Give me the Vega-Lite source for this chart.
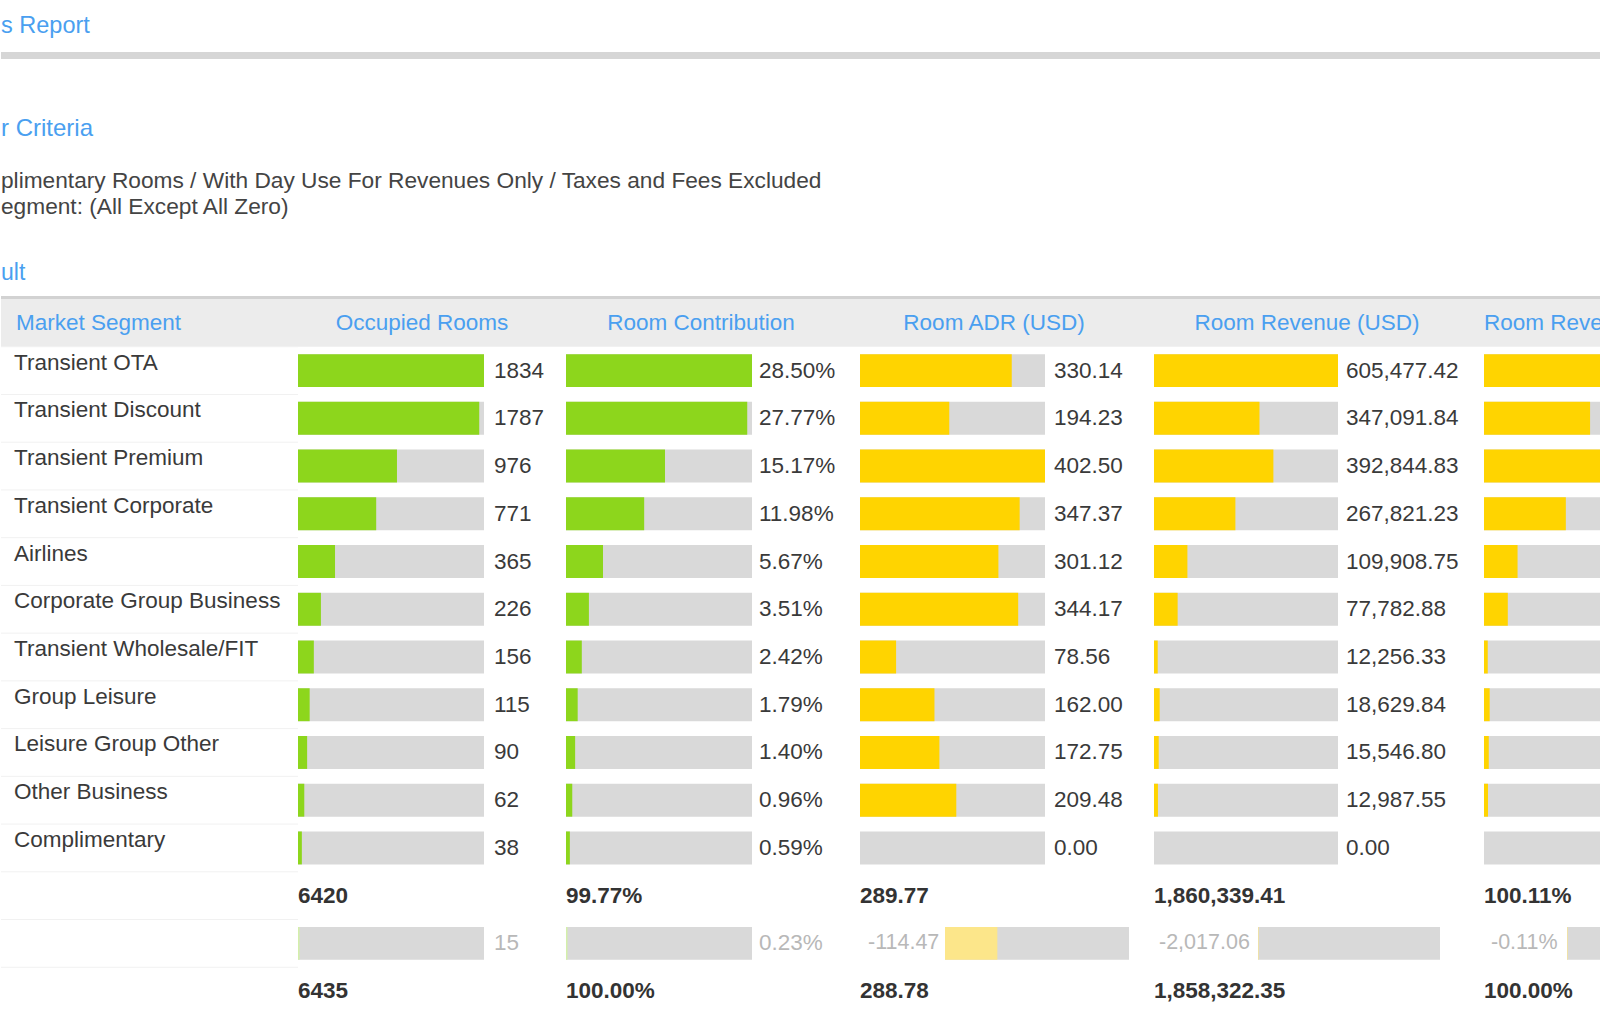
{
  "$schema": "https://vega.github.io/schema/vega-lite/v6.json",
  "background": "white",
  "padding": 0,
  "bounds": "flush",
  "spacing": 0,
  "config": {
    "view": {"stroke": null},
    "font": "Liberation Sans",
    "concat": {"spacing": 0},
    "axis": {"disable": true},
    "text": {"fontSize": 22.5},
    "locale": {"number": {"decimal": ".", "thousands": ",", "grouping": [3], "currency": ["$", ""], "minus": "-"}}
  },
  "datasets": {
    "table": [
      {"key": "Transient OTA", "kind": "seg", "rooms": 1834, "contrib": 0.2850, "adr": 330.14, "revenue": 605477.42, "share": 0.3258},
      {"key": "Transient Discount", "kind": "seg", "rooms": 1787, "contrib": 0.2777, "adr": 194.23, "revenue": 347091.84, "share": 0.1868},
      {"key": "Transient Premium", "kind": "seg", "rooms": 976, "contrib": 0.1517, "adr": 402.50, "revenue": 392844.83, "share": 0.2114},
      {"key": "Transient Corporate", "kind": "seg", "rooms": 771, "contrib": 0.1198, "adr": 347.37, "revenue": 267821.23, "share": 0.1441},
      {"key": "Airlines", "kind": "seg", "rooms": 365, "contrib": 0.0567, "adr": 301.12, "revenue": 109908.75, "share": 0.0591},
      {"key": "Corporate Group Business", "kind": "seg", "rooms": 226, "contrib": 0.0351, "adr": 344.17, "revenue": 77782.88, "share": 0.0419},
      {"key": "Transient Wholesale/FIT", "kind": "seg", "rooms": 156, "contrib": 0.0242, "adr": 78.56, "revenue": 12256.33, "share": 0.0066},
      {"key": "Group Leisure", "kind": "seg", "rooms": 115, "contrib": 0.0179, "adr": 162.00, "revenue": 18629.84, "share": 0.0100},
      {"key": "Leisure Group Other", "kind": "seg", "rooms": 90, "contrib": 0.0140, "adr": 172.75, "revenue": 15546.80, "share": 0.0084},
      {"key": "Other Business", "kind": "seg", "rooms": 62, "contrib": 0.0096, "adr": 209.48, "revenue": 12987.55, "share": 0.0070},
      {"key": "Complimentary", "kind": "seg", "rooms": 38, "contrib": 0.0059, "adr": 0, "revenue": 0, "share": 0},
      {"key": "_total", "kind": "total", "rooms": 6420, "contrib": 0.9977, "adr": 289.77, "revenue": 1860339.41, "share": 1.0011},
      {"key": "_diff", "kind": "diff", "rooms": 15, "contrib": 0.0023, "adr": -114.47, "revenue": -2017.06, "share": -0.0011},
      {"key": "_grand", "kind": "grand", "rooms": 6435, "contrib": 1.0, "adr": 288.78, "revenue": 1858322.35, "share": 1.0}
    ]
  },
  "vconcat": [
    {"width": 1600, "height": 52, "data": {"values": [{}]},
     "mark": {"type": "text", "align": "left", "baseline": "middle", "fontSize": 23.5, "color": "#4a9ff0", "text": "s Report"},
     "encoding": {"x": {"datum": 0, "type": "quantitative", "scale": {"domain": [0, 1]}, "axis": null}}},
    {"width": 1600, "height": 7, "data": {"values": [{}]},
     "mark": {"type": "bar", "color": "#d6d6d6"}, "encoding": {}},
    {"width": 1600, "height": 53, "data": {"values": [{}]},
     "mark": {"type": "text", "text": ""}, "encoding": {}},
    {"width": 1600, "height": 34, "data": {"values": [{}]},
     "mark": {"type": "text", "align": "left", "baseline": "middle", "fontSize": 24, "color": "#4a9ff0", "text": "r Criteria"},
     "encoding": {"x": {"datum": 0, "type": "quantitative", "scale": {"domain": [0, 1]}, "axis": null}}},
    {"width": 1600, "height": 70, "data": {"values": [{}]},
     "mark": {"type": "text", "align": "left", "baseline": "middle", "fontSize": 22.7, "lineHeight": 26, "color": "#444444",
              "text": ["plimentary Rooms / With Day Use For Revenues Only / Taxes and Fees Excluded", "egment: (All Except All Zero)"]},
     "encoding": {"x": {"datum": 0, "type": "quantitative", "scale": {"domain": [0, 1]}, "axis": null}}},
    {"width": 1600, "height": 34, "data": {"values": [{}]},
     "mark": {"type": "text", "text": ""}, "encoding": {}},
    {"width": 1600, "height": 46, "data": {"values": [{}]},
     "mark": {"type": "text", "align": "left", "baseline": "middle", "fontSize": 23, "color": "#4a9ff0", "text": "ult"},
     "encoding": {"x": {"datum": 0, "type": "quantitative", "scale": {"domain": [0, 1]}, "axis": null}}},
    {"width": 1600, "height": 3, "data": {"values": [{}]},
     "mark": {"type": "bar", "color": "#d2d2d2"}, "encoding": {}},
    {
      "bounds": "flush",
      "spacing": 0,
      "hconcat": [
        {
          "width": 297, "height": 716,
          "layer": [
            {"data": {"values": [{}]}, "mark": {"type": "bar", "color": "#ececec"},
             "encoding": {"y": {"datum": "_hdr", "type": "nominal", "scale": {"domain": ["_hdr","Transient OTA","Transient Discount","Transient Premium","Transient Corporate","Airlines","Corporate Group Business","Transient Wholesale/FIT","Group Leisure","Leisure Group Other","Other Business","Complimentary","_total","_diff","_grand"], "paddingInner": 0, "paddingOuter": 0}, "axis": null}}},
            {"data": {"name": "table"}, "mark": {"type": "rule", "color": "#f1f1f1", "strokeWidth": 1},
             "encoding": {"y": {"field": "key", "type": "nominal", "bandPosition": 0}}},
            {"data": {"values": [{}]}, "mark": {"type": "text", "align": "left", "baseline": "middle", "dx": 15, "color": "#4a9ff0", "text": "Market Segment"},
             "encoding": {"y": {"datum": "_hdr", "type": "nominal"}, "x": {"datum": 0, "type": "quantitative", "scale": {"domain": [0, 1]}, "axis": null}}},
            {"data": {"name": "table"}, "transform": [{"filter": "datum.kind === 'seg'"}],
             "mark": {"type": "text", "align": "left", "baseline": "middle", "dx": 13, "dy": -8, "color": "#3a3a3a"},
             "encoding": {"y": {"field": "key", "type": "nominal"}, "x": {"datum": 0, "type": "quantitative"}, "text": {"field": "key", "type": "nominal"}}}
          ]
        },
        {
          "width": 248, "height": 716,
          "layer": [
            {"data": {"values": [{}]}, "mark": {"type": "bar", "color": "#ececec"},
             "encoding": {"y": {"datum": "_hdr", "type": "nominal", "scale": {"domain": ["_hdr","Transient OTA","Transient Discount","Transient Premium","Transient Corporate","Airlines","Corporate Group Business","Transient Wholesale/FIT","Group Leisure","Leisure Group Other","Other Business","Complimentary","_total","_diff","_grand"], "paddingInner": 0, "paddingOuter": 0}, "axis": null}}},
            {"data": {"values": [{}]}, "mark": {"type": "text", "baseline": "middle", "color": "#4a9ff0", "text": "Occupied Rooms"},
             "encoding": {"y": {"datum": "_hdr", "type": "nominal"}}},
            {"data": {"name": "table"}, "transform": [{"filter": "datum.kind === 'seg' || datum.kind === 'diff'"}, {"joinaggregate": [{"op": "max", "field": "rooms", "as": "maxv"}]}],
             "mark": {"type": "bar", "color": "#d9d9d9", "height": {"band": 0.69}},
             "encoding": {"y": {"field": "key", "type": "nominal"}, "x": {"field": "maxv", "type": "quantitative", "scale": {"range": [0, 186], "nice": false, "zero": true}, "axis": null}}},
            {"data": {"name": "table"}, "transform": [{"filter": "datum.kind === 'seg' || datum.kind === 'diff'"}],
             "mark": {"type": "bar", "height": {"band": 0.69}},
             "encoding": {"y": {"field": "key", "type": "nominal"}, "x": {"field": "rooms", "type": "quantitative"},
                          "color": {"condition": {"test": "datum.kind === 'diff'", "value": "#d4efab"}, "value": "#8dd61c"}}},
            {"data": {"name": "table"}, "transform": [{"filter": "datum.kind === 'seg' || datum.kind === 'diff'"}, {"joinaggregate": [{"op": "max", "field": "rooms", "as": "maxv"}]}],
             "mark": {"type": "text", "align": "left", "baseline": "middle", "dx": 10},
             "encoding": {"y": {"field": "key", "type": "nominal"}, "x": {"field": "maxv", "type": "quantitative"},
                          "text": {"field": "rooms", "type": "quantitative", "format": "d"},
                          "color": {"condition": {"test": "datum.kind === 'diff'", "value": "#b8b8b8"}, "value": "#3a3a3a"}}},
            {"data": {"name": "table"}, "transform": [{"filter": "datum.kind === 'total' || datum.kind === 'grand'"}],
             "mark": {"type": "text", "align": "left", "baseline": "middle", "fontWeight": "bold", "color": "#333333"},
             "encoding": {"y": {"field": "key", "type": "nominal"}, "x": {"datum": 0, "type": "quantitative"},
                          "text": {"field": "rooms", "type": "quantitative", "format": "d"}}}
          ]
        },
        {
          "width": 310, "height": 716,
          "layer": [
            {"data": {"values": [{}]}, "mark": {"type": "bar", "color": "#ececec"},
             "encoding": {"y": {"datum": "_hdr", "type": "nominal", "scale": {"domain": ["_hdr","Transient OTA","Transient Discount","Transient Premium","Transient Corporate","Airlines","Corporate Group Business","Transient Wholesale/FIT","Group Leisure","Leisure Group Other","Other Business","Complimentary","_total","_diff","_grand"], "paddingInner": 0, "paddingOuter": 0}, "axis": null}}},
            {"data": {"values": [{}]}, "mark": {"type": "text", "baseline": "middle", "color": "#4a9ff0", "text": "Room Contribution"},
             "encoding": {"y": {"datum": "_hdr", "type": "nominal"}}},
            {"data": {"name": "table"}, "transform": [{"filter": "datum.kind === 'seg' || datum.kind === 'diff'"}, {"joinaggregate": [{"op": "max", "field": "contrib", "as": "maxv"}]}],
             "mark": {"type": "bar", "color": "#d9d9d9", "height": {"band": 0.69}},
             "encoding": {"y": {"field": "key", "type": "nominal"}, "x": {"field": "maxv", "type": "quantitative", "scale": {"range": [20, 206], "nice": false, "zero": true}, "axis": null}}},
            {"data": {"name": "table"}, "transform": [{"filter": "datum.kind === 'seg' || datum.kind === 'diff'"}],
             "mark": {"type": "bar", "height": {"band": 0.69}},
             "encoding": {"y": {"field": "key", "type": "nominal"}, "x": {"field": "contrib", "type": "quantitative"},
                          "color": {"condition": {"test": "datum.kind === 'diff'", "value": "#d4efab"}, "value": "#8dd61c"}}},
            {"data": {"name": "table"}, "transform": [{"filter": "datum.kind === 'seg' || datum.kind === 'diff'"}, {"joinaggregate": [{"op": "max", "field": "contrib", "as": "maxv"}]}],
             "mark": {"type": "text", "align": "left", "baseline": "middle", "dx": 7},
             "encoding": {"y": {"field": "key", "type": "nominal"}, "x": {"field": "maxv", "type": "quantitative"},
                          "text": {"field": "contrib", "type": "quantitative", "format": ".2%"},
                          "color": {"condition": {"test": "datum.kind === 'diff'", "value": "#b8b8b8"}, "value": "#3a3a3a"}}},
            {"data": {"name": "table"}, "transform": [{"filter": "datum.kind === 'total' || datum.kind === 'grand'"}],
             "mark": {"type": "text", "align": "left", "baseline": "middle", "fontWeight": "bold", "color": "#333333"},
             "encoding": {"y": {"field": "key", "type": "nominal"}, "x": {"datum": 0, "type": "quantitative"},
                          "text": {"field": "contrib", "type": "quantitative", "format": ".2%"}}}
          ]
        },
        {
          "width": 276, "height": 716,
          "resolve": {"scale": {"x": "independent"}},
          "layer": [
            {"layer": [
              {"data": {"values": [{}]}, "mark": {"type": "bar", "color": "#ececec"},
               "encoding": {"y": {"datum": "_hdr", "type": "nominal", "scale": {"domain": ["_hdr","Transient OTA","Transient Discount","Transient Premium","Transient Corporate","Airlines","Corporate Group Business","Transient Wholesale/FIT","Group Leisure","Leisure Group Other","Other Business","Complimentary","_total","_diff","_grand"], "paddingInner": 0, "paddingOuter": 0}, "axis": null}}},
              {"data": {"values": [{}]}, "mark": {"type": "text", "baseline": "middle", "color": "#4a9ff0", "text": "Room ADR (USD)"},
               "encoding": {"y": {"datum": "_hdr", "type": "nominal"}}},
              {"data": {"name": "table"}, "transform": [{"filter": "datum.kind === 'seg'"}, {"joinaggregate": [{"op": "max", "field": "adr", "as": "maxv"}]}],
               "mark": {"type": "bar", "color": "#d9d9d9", "height": {"band": 0.69}},
               "encoding": {"y": {"field": "key", "type": "nominal"}, "x": {"field": "maxv", "type": "quantitative", "scale": {"range": [4, 189], "nice": false, "zero": true}, "axis": null}}},
              {"data": {"name": "table"}, "transform": [{"filter": "datum.kind === 'seg'"}],
               "mark": {"type": "bar", "color": "#ffd400", "height": {"band": 0.69}},
               "encoding": {"y": {"field": "key", "type": "nominal"}, "x": {"field": "adr", "type": "quantitative"}}},
              {"data": {"name": "table"}, "transform": [{"filter": "datum.kind === 'seg'"}, {"joinaggregate": [{"op": "max", "field": "adr", "as": "maxv"}]}],
               "mark": {"type": "text", "align": "left", "baseline": "middle", "dx": 9, "color": "#3a3a3a"},
               "encoding": {"y": {"field": "key", "type": "nominal"}, "x": {"field": "maxv", "type": "quantitative"},
                            "text": {"field": "adr", "type": "quantitative", "format": ".2f"}}},
              {"data": {"name": "table"}, "transform": [{"filter": "datum.kind === 'total' || datum.kind === 'grand'"}],
               "mark": {"type": "text", "align": "left", "baseline": "middle", "fontWeight": "bold", "color": "#333333"},
               "encoding": {"y": {"field": "key", "type": "nominal"}, "x": {"datum": 0, "type": "quantitative"},
                            "text": {"field": "adr", "type": "quantitative", "format": ".2f"}}},
              {"data": {"name": "table"}, "transform": [{"filter": "datum.kind === 'diff'"}],
               "mark": {"type": "text", "align": "left", "baseline": "middle", "dx": 8, "fontSize": 21.5, "color": "#b8b8b8"},
               "encoding": {"y": {"field": "key", "type": "nominal"}, "x": {"datum": 0, "type": "quantitative"},
                            "text": {"field": "adr", "type": "quantitative", "format": ".2f"}}}
            ]},
            {"layer": [
              {"data": {"name": "table"}, "transform": [{"filter": "datum.kind === 'diff'"}],
               "mark": {"type": "bar", "color": "#d9d9d9", "height": {"band": 0.69}},
               "encoding": {"y": {"field": "key", "type": "nominal"}, "x": {"datum": -402.5, "type": "quantitative", "scale": {"domain": [0, -402.5], "range": [89, 273], "nice": false, "zero": false}, "axis": null}}},
              {"data": {"name": "table"}, "transform": [{"filter": "datum.kind === 'diff'"}],
               "mark": {"type": "bar", "color": "#fce68a", "height": {"band": 0.69}},
               "encoding": {"y": {"field": "key", "type": "nominal"}, "x": {"field": "adr", "type": "quantitative"}}}
            ]}
          ]
        },
        {
          "width": 350, "height": 716,
          "resolve": {"scale": {"x": "independent"}},
          "layer": [
            {"layer": [
              {"data": {"values": [{}]}, "mark": {"type": "bar", "color": "#ececec"},
               "encoding": {"y": {"datum": "_hdr", "type": "nominal", "scale": {"domain": ["_hdr","Transient OTA","Transient Discount","Transient Premium","Transient Corporate","Airlines","Corporate Group Business","Transient Wholesale/FIT","Group Leisure","Leisure Group Other","Other Business","Complimentary","_total","_diff","_grand"], "paddingInner": 0, "paddingOuter": 0}, "axis": null}}},
              {"data": {"values": [{}]}, "mark": {"type": "text", "baseline": "middle", "color": "#4a9ff0", "text": "Room Revenue (USD)"},
               "encoding": {"y": {"datum": "_hdr", "type": "nominal"}}},
              {"data": {"name": "table"}, "transform": [{"filter": "datum.kind === 'seg'"}, {"joinaggregate": [{"op": "max", "field": "revenue", "as": "maxv"}]}],
               "mark": {"type": "bar", "color": "#d9d9d9", "height": {"band": 0.69}},
               "encoding": {"y": {"field": "key", "type": "nominal"}, "x": {"field": "maxv", "type": "quantitative", "scale": {"range": [22, 206], "nice": false, "zero": true}, "axis": null}}},
              {"data": {"name": "table"}, "transform": [{"filter": "datum.kind === 'seg'"}],
               "mark": {"type": "bar", "color": "#ffd400", "height": {"band": 0.69}},
               "encoding": {"y": {"field": "key", "type": "nominal"}, "x": {"field": "revenue", "type": "quantitative"}}},
              {"data": {"name": "table"}, "transform": [{"filter": "datum.kind === 'seg'"}, {"joinaggregate": [{"op": "max", "field": "revenue", "as": "maxv"}]}],
               "mark": {"type": "text", "align": "left", "baseline": "middle", "dx": 8, "color": "#3a3a3a"},
               "encoding": {"y": {"field": "key", "type": "nominal"}, "x": {"field": "maxv", "type": "quantitative"},
                            "text": {"field": "revenue", "type": "quantitative", "format": ",.2f"}}},
              {"data": {"name": "table"}, "transform": [{"filter": "datum.kind === 'total' || datum.kind === 'grand'"}],
               "mark": {"type": "text", "align": "left", "baseline": "middle", "fontWeight": "bold", "color": "#333333"},
               "encoding": {"y": {"field": "key", "type": "nominal"}, "x": {"datum": 0, "type": "quantitative"},
                            "text": {"field": "revenue", "type": "quantitative", "format": ",.2f"}}},
              {"data": {"name": "table"}, "transform": [{"filter": "datum.kind === 'diff'"}],
               "mark": {"type": "text", "align": "left", "baseline": "middle", "dx": 5, "fontSize": 21.5, "color": "#b8b8b8"},
               "encoding": {"y": {"field": "key", "type": "nominal"}, "x": {"datum": 0, "type": "quantitative"},
                            "text": {"field": "revenue", "type": "quantitative", "format": ",.2f"}}}
            ]},
            {"layer": [
              {"data": {"name": "table"}, "transform": [{"filter": "datum.kind === 'diff'"}],
               "mark": {"type": "bar", "color": "#d9d9d9", "height": {"band": 0.69}},
               "encoding": {"y": {"field": "key", "type": "nominal"}, "x": {"datum": -605477.42, "type": "quantitative", "scale": {"domain": [0, -605477.42], "range": [126, 308], "nice": false, "zero": false}, "axis": null}}},
              {"data": {"name": "table"}, "transform": [{"filter": "datum.kind === 'diff'"}],
               "mark": {"type": "bar", "color": "#fce68a", "height": {"band": 0.69}},
               "encoding": {"y": {"field": "key", "type": "nominal"}, "x": {"field": "revenue", "type": "quantitative"}}}
            ]}
          ]
        },
        {
          "width": 119, "height": 716,
          "resolve": {"scale": {"x": "independent"}},
          "layer": [
            {"layer": [
              {"data": {"values": [{}]}, "mark": {"type": "bar", "color": "#ececec", "clip": true},
               "encoding": {"y": {"datum": "_hdr", "type": "nominal", "scale": {"domain": ["_hdr","Transient OTA","Transient Discount","Transient Premium","Transient Corporate","Airlines","Corporate Group Business","Transient Wholesale/FIT","Group Leisure","Leisure Group Other","Other Business","Complimentary","_total","_diff","_grand"], "paddingInner": 0, "paddingOuter": 0}, "axis": null}}},
              {"data": {"values": [{}]}, "mark": {"type": "text", "align": "left", "baseline": "middle", "color": "#4a9ff0", "text": "Room Revenue Contribution", "clip": true},
               "encoding": {"y": {"datum": "_hdr", "type": "nominal"}, "x": {"datum": 0, "type": "quantitative"}}},
              {"data": {"name": "table"}, "transform": [{"filter": "datum.kind === 'seg'"}, {"joinaggregate": [{"op": "max", "field": "share", "as": "maxv"}]}],
               "mark": {"type": "bar", "color": "#d9d9d9", "height": {"band": 0.69}, "clip": true},
               "encoding": {"y": {"field": "key", "type": "nominal"}, "x": {"field": "maxv", "type": "quantitative", "scale": {"range": [2, 187], "nice": false, "zero": true}, "axis": null}}},
              {"data": {"name": "table"}, "transform": [{"filter": "datum.kind === 'seg'"}],
               "mark": {"type": "bar", "color": "#ffd400", "height": {"band": 0.69}, "clip": true},
               "encoding": {"y": {"field": "key", "type": "nominal"}, "x": {"field": "share", "type": "quantitative"}}},
              {"data": {"name": "table"}, "transform": [{"filter": "datum.kind === 'seg'"}, {"joinaggregate": [{"op": "max", "field": "share", "as": "maxv"}]}],
               "mark": {"type": "text", "align": "left", "baseline": "middle", "dx": 8, "color": "#3a3a3a", "clip": true},
               "encoding": {"y": {"field": "key", "type": "nominal"}, "x": {"field": "maxv", "type": "quantitative"},
                            "text": {"field": "share", "type": "quantitative", "format": ".2%"}}},
              {"data": {"name": "table"}, "transform": [{"filter": "datum.kind === 'total' || datum.kind === 'grand'"}],
               "mark": {"type": "text", "align": "left", "baseline": "middle", "fontWeight": "bold", "color": "#333333", "clip": true},
               "encoding": {"y": {"field": "key", "type": "nominal"}, "x": {"datum": 0, "type": "quantitative"},
                            "text": {"field": "share", "type": "quantitative", "format": ".2%"}}},
              {"data": {"name": "table"}, "transform": [{"filter": "datum.kind === 'diff'"}],
               "mark": {"type": "text", "align": "left", "baseline": "middle", "dx": 7, "fontSize": 21.5, "color": "#b8b8b8", "clip": true},
               "encoding": {"y": {"field": "key", "type": "nominal"}, "x": {"datum": 0, "type": "quantitative"},
                            "text": {"field": "share", "type": "quantitative", "format": ".2%"}}}
            ]},
            {"layer": [
              {"data": {"name": "table"}, "transform": [{"filter": "datum.kind === 'diff'"}],
               "mark": {"type": "bar", "color": "#d9d9d9", "height": {"band": 0.69}, "clip": true},
               "encoding": {"y": {"field": "key", "type": "nominal"}, "x": {"datum": -0.3258, "type": "quantitative", "scale": {"domain": [0, -0.3258], "range": [85, 270], "nice": false, "zero": false}, "axis": null}}},
              {"data": {"name": "table"}, "transform": [{"filter": "datum.kind === 'diff'"}],
               "mark": {"type": "bar", "color": "#fce68a", "height": {"band": 0.69}, "clip": true},
               "encoding": {"y": {"field": "key", "type": "nominal"}, "x": {"field": "share", "type": "quantitative"}}}
            ]}
          ]
        }
      ]
    }
  ]
}
